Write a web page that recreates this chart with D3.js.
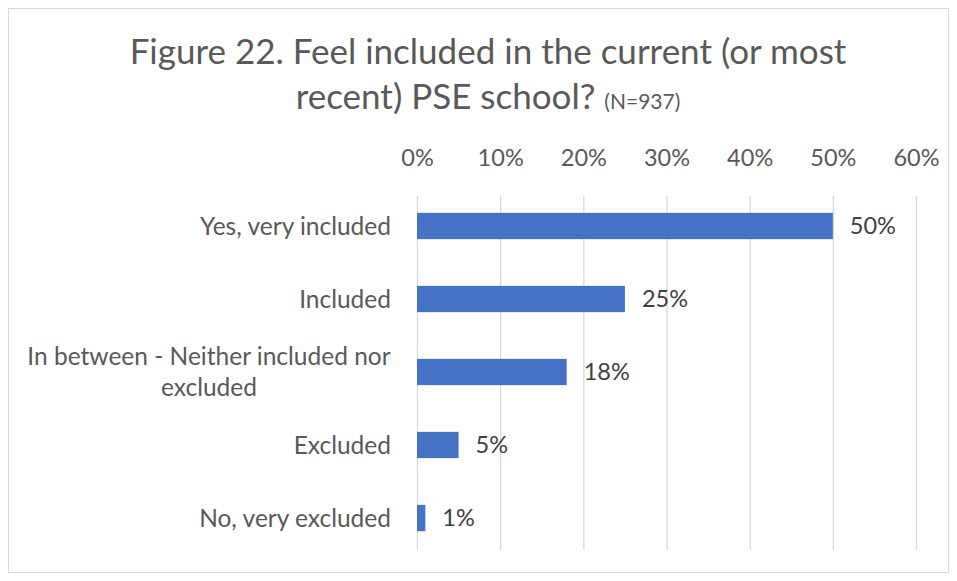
<!DOCTYPE html>
<html>
<head>
<meta charset="utf-8">
<script src="https://cdn.jsdelivr.net/npm/d3@7"></script>
<style>
  body { margin: 0; background: #fff; }
  svg { display: block; font-family: Lato, "Open Sans", sans-serif; }
</style>
</head>
<body>
<svg id="chart" width="957" height="581"></svg>
<script>
// Survey responses: share of students who feel included at their PSE school
const categories = [
  "Yes, very included",
  "Included",
  "In between - Neither included nor excluded",
  "Excluded",
  "No, very excluded"
];
const shares = [0.50, 0.25, 0.18, 0.05, 0.01];
const tickValues = [0, 0.1, 0.2, 0.3, 0.4, 0.5, 0.6];

const svg = d3.select("#chart");

// chart frame
svg.append("rect")
  .attr("x", 8.5).attr("y", 8.5)
  .attr("width", 940).attr("height", 564)
  .attr("fill", "#fff").attr("stroke", "#d9d9d9").attr("stroke-width", 1);

const x = d3.scaleLinear().domain([0, 0.6]).range([417, 916]);
const y = d3.scaleBand().domain(categories).range([189.5, 554.5])
  .paddingInner(0.64).paddingOuter(0.32);

// title
const title = svg.append("text")
  .attr("text-anchor", "middle")
  .attr("fill", "#595959")
  .style("font-size", "35px");
title.append("tspan").attr("x", 488).attr("y", 64)
  .text("Figure 22. Feel included in the current (or most");
const t2 = title.append("tspan").attr("x", 488).attr("y", 109);
t2.append("tspan").text("recent) PSE school? ");
t2.append("tspan").style("font-size", "21px").text("(N=937)");

// vertical gridlines
svg.append("g")
  .selectAll("line")
  .data(tickValues)
  .join("line")
  .attr("x1", d => x(d) + 0.5).attr("x2", d => x(d) + 0.5)
  .attr("y1", 196).attr("y2", 550)
  .attr("stroke", "#d9d9d9").attr("stroke-width", 1.3);

// top axis labels
const axis = d3.axisTop(x)
  .tickValues(tickValues)
  .tickFormat(d3.format(".0%"))
  .tickSize(0)
  .tickPadding(0);
const ax = svg.append("g").attr("transform", "translate(0,166)").call(axis);
ax.select(".domain").remove();
ax.selectAll("text")
  .attr("fill", "#595959")
  .style("font-size", "23.5px")
  .style("font-family", "Lato, 'Open Sans', sans-serif");

// bars
svg.append("g")
  .selectAll("rect")
  .data(categories)
  .join("rect")
  .attr("x", x(0))
  .attr("y", d => y(d))
  .attr("width", (d, i) => x(shares[i]) - x(0))
  .attr("height", y.bandwidth())
  .attr("fill", "#4472c4");

// value labels
svg.append("g")
  .selectAll("text")
  .data(categories)
  .join("text")
  .attr("x", (d, i) => x(shares[i]) + 17)
  .attr("y", d => y(d) + y.bandwidth() / 2)
  .attr("dy", "0.35em")
  .attr("fill", "#404040")
  .style("font-size", "23.5px")
  .text((d, i) => d3.format(".0%")(shares[i]));

// category labels (wrapped where long)
const wrap = {
  "In between - Neither included nor excluded": ["In between - Neither included nor", "excluded"]
};
const catG = svg.append("g");
categories.forEach(c => {
  const lines = wrap[c] || [c];
  const cy = y(c) + y.bandwidth() / 2;
  const lh = 31;
  const t = catG.append("text")
    .attr("fill", "#595959")
    .style("font-size", "24.5px");
  lines.forEach((ln, k) => {
    t.append("tspan")
      .attr("text-anchor", lines.length > 1 ? "middle" : "end")
      .attr("x", lines.length > 1 ? 209 : 391)
      .attr("y", cy + (k - (lines.length - 1) / 2) * lh)
      .attr("dy", "0.35em")
      .text(ln);
  });
});
</script>
</body>
</html>
